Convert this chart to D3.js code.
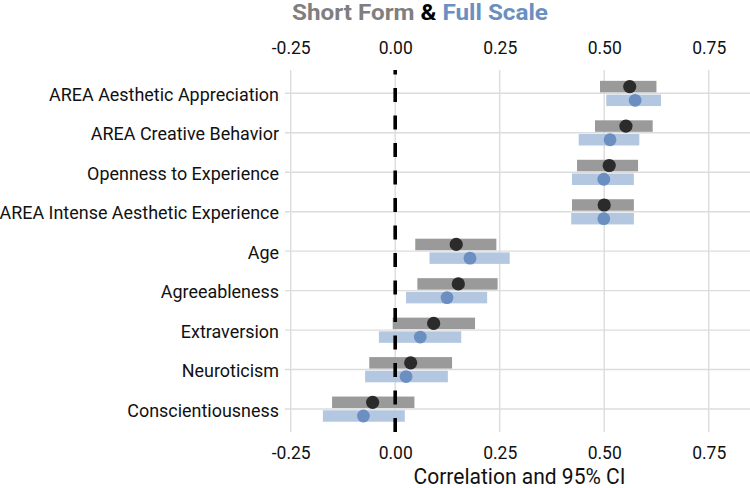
<!DOCTYPE html>
<html><head><meta charset="utf-8">
<script src="https://cdn.jsdelivr.net/npm/d3@7"></script>
<style>
html,body{margin:0;padding:0;background:#fff;}
svg{display:block;}
text{font-family:Roboto,"Noto Sans","Open Sans",sans-serif;}
</style></head>
<body><svg id="chart" width="750" height="488"></svg>
<script>
const categories = ["AREA Aesthetic Appreciation","AREA Creative Behavior","Openness to Experience","AREA Intense Aesthetic Experience","Age","Agreeableness","Extraversion","Neuroticism","Conscientiousness"];
const shortEst = [0.561,0.552,0.512,0.500,0.146,0.151,0.092,0.037,-0.054];
const shortLo  = [0.490,0.478,0.435,0.423,0.048,0.053,-0.006,-0.062,-0.151];
const shortHi  = [0.625,0.616,0.581,0.571,0.242,0.245,0.191,0.136,0.046];
const fullEst  = [0.574,0.514,0.499,0.499,0.179,0.124,0.060,0.026,-0.076];
const fullLo   = [0.505,0.439,0.423,0.421,0.082,0.026,-0.039,-0.072,-0.173];
const fullHi   = [0.636,0.584,0.571,0.571,0.274,0.220,0.158,0.126,0.023];
const xTicks = [-0.25,0,0.25,0.5,0.75];
const xTickLabels = ["-0.25","0.00","0.25","0.50","0.75"];

const svg = d3.select("#chart");
const panel = {l:285, r:750, t:70, b:432};
const x = d3.scaleLinear().domain([-0.25,0.75]).range([290.7,708.7]);
const y = d3.scalePoint().domain(categories).range([93.3,409]);

const gridC = "#dcdcdc";
svg.append("g").selectAll("line").data(xTicks).join("line")
  .attr("x1",d=>x(d)).attr("x2",d=>x(d)).attr("y1",panel.t).attr("y2",panel.b)
  .attr("stroke",gridC).attr("stroke-width",1.4);
svg.append("g").selectAll("line").data(categories).join("line")
  .attr("x1",panel.l).attr("x2",panel.r).attr("y1",d=>y(d)).attr("y2",d=>y(d))
  .attr("stroke",gridC).attr("stroke-width",1.4);

const rows = categories.map((c,i)=>({c,se:shortEst[i],sl:shortLo[i],sh:shortHi[i],fe:fullEst[i],fl:fullLo[i],fh:fullHi[i]}));
const bh = 11.5, offS = -6.7, offF = 7.0;
svg.append("g").selectAll("rect").data(rows).join("rect")
  .attr("x",d=>x(d.sl)).attr("width",d=>x(d.sh)-x(d.sl))
  .attr("y",d=>y(d.c)+offS-bh/2).attr("height",bh).attr("fill","#9a9a9a");
svg.append("g").selectAll("rect").data(rows).join("rect")
  .attr("x",d=>x(d.fl)).attr("width",d=>x(d.fh)-x(d.fl))
  .attr("y",d=>y(d.c)+offF-bh/2).attr("height",bh).attr("fill","#b4c7e1");

svg.append("line").attr("x1",x(0)).attr("x2",x(0)).attr("y1",panel.b).attr("y2",panel.t)
  .attr("stroke","#000").attr("stroke-width",3.6).attr("stroke-dasharray","14,13.5");

svg.append("g").selectAll("circle").data(rows).join("circle")
  .attr("cx",d=>x(d.se)).attr("cy",d=>y(d.c)+offS).attr("r",6.6).attr("fill","#2b2b2b");
svg.append("g").selectAll("circle").data(rows).join("circle")
  .attr("cx",d=>x(d.fe)).attr("cy",d=>y(d.c)+offF).attr("r",6.4).attr("fill","#6a8fc0");

// horizontal condense factor to mimic a condensed face
function squeeze(str, size, target, weight, allowWide){
  const t = svg.append("text").attr("font-size",size).attr("font-weight",weight||"normal").text(str);
  const w = t.node().getComputedTextLength(); t.remove();
  const k = target/w;
  return allowWide ? Math.min(1.15,k) : Math.min(1,k);
}
const tickFs = 17.5, labFs = 19, axTitleFs = 21.5, titleFs = 22.5;
const wReg = 400;
const kTick = squeeze("-0.25",tickFs,41,wReg);
const kLab = squeeze("AREA Aesthetic Appreciation",labFs,230,wReg);
const kAx = squeeze("Correlation and 95% CI",axTitleFs,212,wReg);
const kTitle = squeeze("Short Form & Full Scale",titleFs,256,"bold",true);

const axB = d3.axisBottom(x).tickValues(xTicks).tickFormat((d,i)=>xTickLabels[i]).tickSize(0).tickPadding(0);
const gb = svg.append("g").attr("transform",`translate(0,${panel.b})`).call(axB);
gb.select(".domain").remove();
gb.selectAll("text").attr("font-size",tickFs).attr("font-weight",wReg).attr("fill","#111").attr("dy",null).attr("y",27.3)
  .attr("transform",`scale(${kTick},1)`);
const axT = d3.axisTop(x).tickValues(xTicks).tickFormat((d,i)=>xTickLabels[i]).tickSize(0).tickPadding(0);
const gt = svg.append("g").attr("transform",`translate(0,${panel.t})`).call(axT);
gt.select(".domain").remove();
gt.selectAll("text").attr("font-size",tickFs).attr("font-weight",wReg).attr("fill","#111").attr("dy",null).attr("y",-16)
  .attr("transform",`scale(${kTick},1)`);

const axL = d3.axisLeft(y).tickSize(0).tickPadding(0);
const gl = svg.append("g").attr("transform",`translate(${panel.l-6},0)`).call(axL);
gl.select(".domain").remove();
gl.selectAll("text").attr("font-size",labFs).attr("font-weight",wReg).attr("fill","#111").attr("x",0).attr("dy",null).attr("y",7.2)
  .attr("transform",`scale(${kLab},1)`);

svg.append("g").attr("transform",`translate(${(panel.l+panel.r)/2+2},484) scale(${kAx},1)`)
  .append("text").attr("text-anchor","middle").attr("font-weight",wReg)
  .attr("font-size",axTitleFs).attr("fill","#111").text("Correlation and 95% CI");

const tt = svg.append("g").attr("transform",`translate(420,20) scale(${kTitle},1)`)
  .append("text").attr("text-anchor","middle")
  .attr("font-size",titleFs).attr("font-weight","bold");
tt.append("tspan").attr("fill","#7f7f7f").text("Short Form");
tt.append("tspan").attr("fill","#000").text(" & ");
tt.append("tspan").attr("fill","#6a8fc0").text("Full Scale");
</script></body></html>
